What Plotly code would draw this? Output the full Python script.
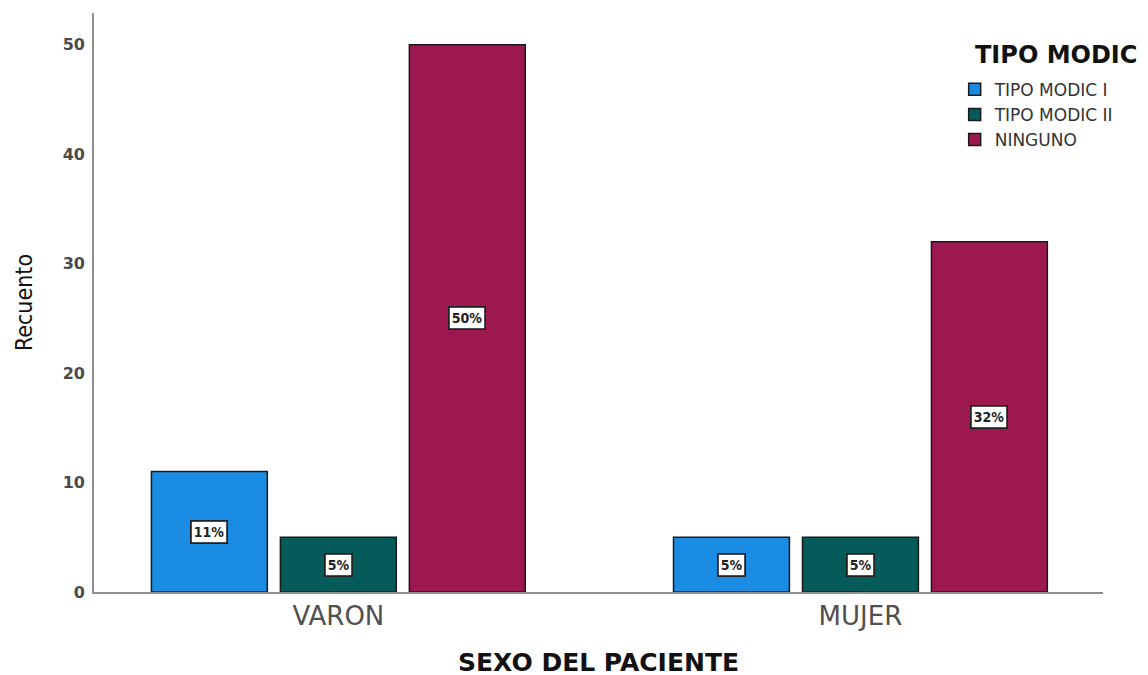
import plotly.graph_objects as go

categories = ["VARON", "MUJER"]
series_names = ["TIPO MODIC I", "TIPO MODIC II", "NINGUNO"]
series_values = [
    [11, 5],   # TIPO MODIC I
    [5, 5],    # TIPO MODIC II
    [50, 32],  # NINGUNO
]
series_labels = [
    ["11%", "5%"],
    ["5%", "5%"],
    ["50%", "32%"],
]
legend_title = "TIPO MODIC"
colors = ["#1B8CE3", "#045B59", "#9E1850"]
y_ticks = [0, 10, 20, 30, 40, 50]

FONT = "DejaVu Sans"
slot = 0.247
bar_w = 0.222
fig = go.Figure()
annotations = []
n = len(series_names)
for j, name in enumerate(series_names):
    off = (j - (n - 1) / 2) * slot
    xs = [i + off for i in range(len(categories))]
    fig.add_trace(go.Bar(
        x=xs, y=series_values[j], width=bar_w, name=name,
        marker=dict(color=colors[j], line=dict(color="#1a1a1a", width=1.5)),
        hoverinfo="y+name",
    ))
    for x, v, lab in zip(xs, series_values[j], series_labels[j]):
        annotations.append(dict(
            x=x, y=v / 2, text="<b>" + lab + "</b>", showarrow=False,
            font=dict(family="DejaVu Sans Condensed, DejaVu Sans", size=14, color="#222"),
            bgcolor="white", bordercolor="#222", borderwidth=1.8, borderpad=2,
        ))

annotations.append(dict(
    xref="paper", yref="paper", x=0.871, y=0.927, xanchor="left", yanchor="middle",
    text="<b>" + legend_title + "</b>", showarrow=False,
    font=dict(family=FONT, size=24, color="#111"),
))

fig.update_layout(
    width=1148, height=675,
    margin=dict(l=86, r=53, t=5, b=91),
    plot_bgcolor="white", paper_bgcolor="white",
    showlegend=True,
    legend=dict(
        font=dict(family=FONT, size=17, color="#333"),
        x=0.853, y=0.8985, xanchor="left", yanchor="top",
        bgcolor="rgba(0,0,0,0)", tracegroupgap=0,
    ),
    annotations=annotations,
)
fig.update_xaxes(
    range=[-0.468, 1.4646],
    tickvals=list(range(len(categories))), ticktext=categories,
    showline=True, linecolor="#8f8f8f", linewidth=1.8,
    showgrid=False, zeroline=False, ticks="",
    tickfont=dict(family=FONT, size=26, color="#505050"),
    title=dict(text="<b>SEXO DEL PACIENTE</b>", font=dict(family=FONT, size=25, color="#111"), standoff=23),
)
fig.update_yaxes(
    range=[0, 52.9], tickvals=y_ticks,
    showline=True, linecolor="#8f8f8f", linewidth=1.8,
    showgrid=False, zeroline=False, ticks="",
    ticklabelstandoff=4,
    tickfont=dict(family=FONT, size=16, color="#4a4a4a", weight="bold"),
    title=dict(text="Recuento", font=dict(family="DejaVu Sans Condensed, DejaVu Sans", size=23, color="#111"), standoff=24),
)
fig.write_html("out.html")
